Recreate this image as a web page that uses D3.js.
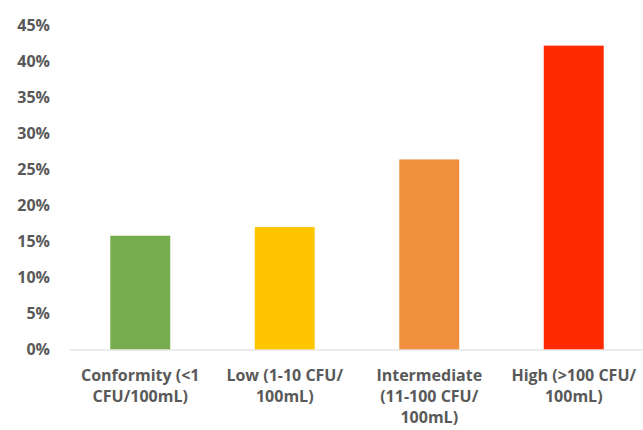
<!DOCTYPE html>
<html><head><meta charset="utf-8">
<script src="https://cdn.jsdelivr.net/npm/d3@7"></script>
<style>body{margin:0;background:#fff;} text{font-family:"Open Sans",Lato,sans-serif;font-weight:bold;fill:#595959;}</style>
</head><body>
<svg id="c" width="643" height="430"></svg>
<script>
const categories = ["Conformity (<1 CFU/100mL)", "Low (1-10 CFU/ 100mL)", "Intermediate (11-100 CFU/ 100mL)", "High (>100 CFU/ 100mL)"];
const categoryLines = [["Conformity (<1", "CFU/100mL)"], ["Low (1-10 CFU/", "100mL)"], ["Intermediate", "(11-100 CFU/", "100mL)"], ["High (>100 CFU/", "100mL)"]];
const values = [0.158, 0.170, 0.264, 0.422];
const colors = ["#77AD4E", "#FFC600", "#F0903F", "#FF2A00"];
const yTicks = [0, 0.05, 0.10, 0.15, 0.20, 0.25, 0.30, 0.35, 0.40, 0.45];

const svg = d3.select("#c");
const x = d3.scaleBand().domain(categories).range([68, 646]).paddingInner(0.585).paddingOuter(0.2925);
const y = d3.scaleLinear().domain([0, 0.45]).range([349.5, 25.5]);

const yAxis = d3.axisLeft(y).tickValues(yTicks).tickFormat(d3.format(".0%")).tickSize(0).tickPadding(0);
const ga = svg.append("g").attr("transform", "translate(50,0)").call(yAxis);
ga.select(".domain").remove();
ga.selectAll("text").style("font-size", "16px").style("font-family", "'Open Sans', sans-serif").style("font-weight", "bold").attr("fill", "#595959");

svg.selectAll("rect.bar").data(values).join("rect")
  .attr("class", "bar")
  .attr("x", (d, i) => x(categories[i]))
  .attr("width", x.bandwidth())
  .attr("y", d => y(d))
  .attr("height", d => y(0) - y(d))
  .attr("fill", (d, i) => colors[i]);

const xAxis = d3.axisBottom(x).tickSize(0).tickFormat("");
const gx = svg.append("g").attr("transform", `translate(0,${y(0)})`).call(xAxis);
gx.select(".domain").attr("stroke", "#d9d9d9").attr("stroke-width", 1).attr("d", "M70,0.5H643");

gx.selectAll(".tick").each(function(d, i) {
  const t = d3.select(this).append("text").attr("text-anchor", "middle").style("font-size", "16px");
  categoryLines[i].forEach((line, j) => {
    t.append("tspan").attr("x", 0).attr("y", 31 + j * 21).text(line);
  });
});
</script>
</body></html>
